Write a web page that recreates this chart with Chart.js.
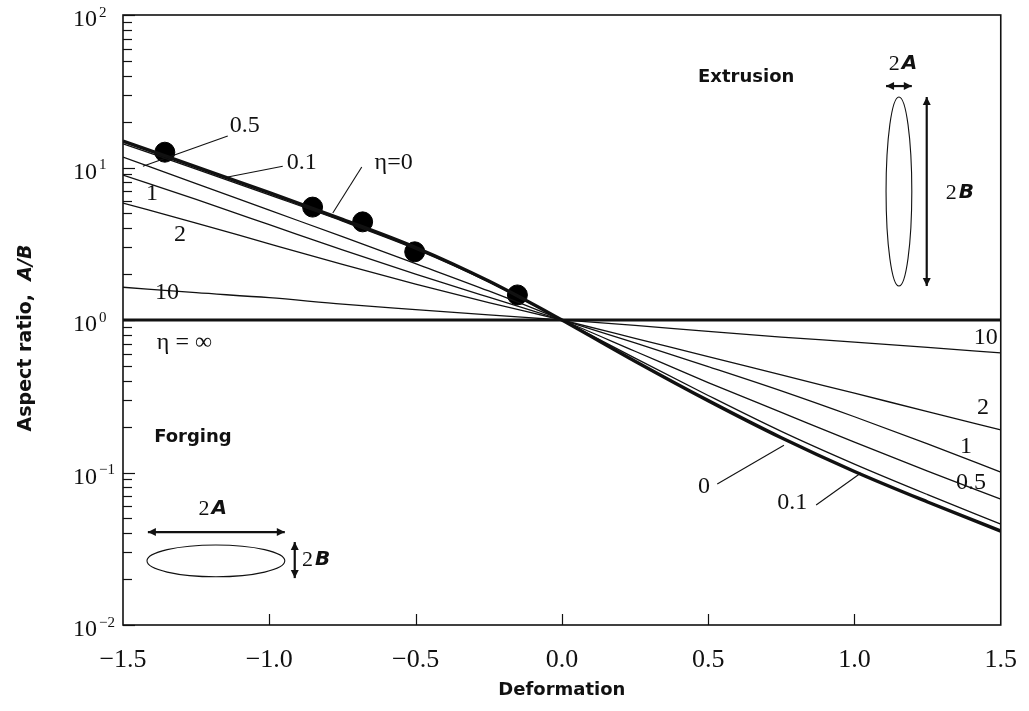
<!DOCTYPE html>
<html><head><meta charset="utf-8">
<script src="https://cdn.jsdelivr.net/npm/chart.js@4.4.1/dist/chart.umd.min.js"></script>
<style>html,body{margin:0;padding:0;background:#fff;}#wrap{width:1029px;height:711px;position:relative;}</style>
</head><body><div id="wrap"><canvas id="c"></canvas></div>
<script>
// ---- data ----
const deformation = [-1.5,-1.25,-1.0,-0.75,-0.5,-0.25,0,0.25,0.5,0.75,1.0,1.25,1.5];
const eta0   = [14.9,10.1,6.84,4.57,2.99,1.80,1,0.537,0.296,0.169,0.1016,0.0641,0.0413];
const eta01  = [14.3,9.77,6.61,4.45,2.92,1.78,1,0.562,0.320,0.186,0.1135,0.0716,0.0459];
const eta05  = [11.7,7.85,5.25,3.52,2.34,1.55,1,0.624,0.389,0.248,0.158,0.102,0.067];
const eta1   = [8.93,6.17,4.22,2.88,2.00,1.41,1,0.708,0.495,0.343,0.232,0.154,0.1007];
const eta2   = [5.85,4.32,3.16,2.32,1.72,1.30,1,0.759,0.575,0.437,0.331,0.251,0.190];
const eta10  = [1.64,1.51,1.40,1.27,1.17,1.08,1,0.923,0.841,0.773,0.716,0.661,0.608];
const etaInf = [1,1,1,1,1,1,1,1,1,1,1,1,1];
const expDeformation = [-1.357,-0.852,-0.681,-0.503,-0.152];
const expAspect      = [12.6,5.5,4.4,2.8,1.46];
const xTickValues = [-1.5,-1.0,-0.5,0,0.5,1.0,1.5];
const yDecades  = [0.01,0.1,1,10,100];
const yExpLabels = ['\u22122','\u22121','0','1','2'];

// ---- annotations (data coordinates) ----
const curveLabels = [
  {t:'0.5', x:-1.084, y:18.7}, {t:'0.1', x:-0.889, y:10.7}, {t:'\u03b7=0', x:-0.575, y:10.7},
  {t:'1', x:-1.401, y:6.70}, {t:'2', x:-1.305, y:3.61}, {t:'10', x:-1.35, y:1.50},
  {t:'\u03b7 = \u221e', x:-1.29, y:0.706},
  {t:'10', x:1.449, y:0.762}, {t:'2', x:1.439, y:0.265}, {t:'1', x:1.381, y:0.147},
  {t:'0.5', x:1.398, y:0.0853}, {t:'0', x:0.486, y:0.0803}, {t:'0.1', x:0.787, y:0.063}
];
const leaders = [
  [-1.142,16.1,-1.432,10.2], [-0.954,10.2,-1.142,8.67], [-0.684,10.07,-0.783,5.03],
  [0.531,0.0841,0.759,0.151], [0.869,0.0612,1.022,0.0993]
];
const regionLabels = [{t:'Extrusion', x:0.630, y:39.2}, {t:'Forging', x:-1.261, y:0.171}];

const toData = (arr) => deformation.map((x,i)=>({x, y: arr[i]}));
const lineDs = (label, arr, w) => ({label, data: toData(arr), borderColor:'#111', borderWidth:w,
  pointRadius:0, fill:false, cubicInterpolationMode:'monotone'});

const deco = {
  id:'deco',
  afterDatasetsDraw(ch){
    const ctx = ch.ctx, a = ch.chartArea, X = ch.scales.x, Y = ch.scales.y;
    const px = v => X.getPixelForValue(v), py = v => Y.getPixelForValue(v);
    ctx.save();
    ctx.strokeStyle = '#111'; ctx.fillStyle = '#111';
    // frame
    ctx.lineWidth = 1.6;
    ctx.strokeRect(a.left, a.top, a.right - a.left, a.bottom - a.top);
    // inward y ticks
    ctx.lineWidth = 1.2;
    yDecades.forEach((d, i) => {
      const ks = i === yDecades.length - 1 ? [1] : [1,2,3,4,5,6,7,8,9];
      ks.forEach(k => {
        const yy = Math.round(py(d*k)) + 0.5;
        ctx.beginPath(); ctx.moveTo(a.left, yy); ctx.lineTo(a.left + (k===1?12:9), yy); ctx.stroke();
      });
    });
    // inward x ticks
    xTickValues.slice(1,-1).forEach(v => {
      const xx = Math.round(px(v)) + 0.5;
      ctx.beginPath(); ctx.moveTo(xx, a.bottom); ctx.lineTo(xx, a.bottom - 11); ctx.stroke();
    });
    // y tick labels 10^n
    ctx.textBaseline = 'middle';
    yDecades.forEach((d, i) => {
      const yy = py(d);
      ctx.font = "24px 'Liberation Serif', serif"; ctx.textAlign = 'right';
      ctx.fillText('10', a.left - 26, yy + 5);
      ctx.font = "15px 'Liberation Serif', serif"; ctx.textAlign = 'left';
      ctx.fillText(yExpLabels[i], a.left - 24, yy - 2);
    });
    // y axis title
    ctx.save();
    ctx.translate(26, 338); ctx.rotate(-Math.PI/2);
    const f1 = "bold 19px 'DejaVu Sans', sans-serif", f2 = "italic bold 19px 'DejaVu Sans', sans-serif";
    ctx.font = f1; const w1 = ctx.measureText('Aspect ratio,  ').width;
    ctx.font = f2; const w2 = ctx.measureText('A/B').width;
    ctx.textAlign = 'left';
    ctx.font = f1; ctx.fillText('Aspect ratio,  ', -(w1+w2)/2, 0);
    ctx.font = f2; ctx.fillText('A/B', -(w1+w2)/2 + w1, 0);
    ctx.restore();
    // curve labels
    ctx.font = "24px 'Liberation Serif', serif"; ctx.textAlign = 'center'; ctx.textBaseline = 'middle';
    curveLabels.forEach(l => ctx.fillText(l.t, px(l.x), py(l.y)));
    ctx.lineWidth = 1.1;
    leaders.forEach(s => { ctx.beginPath(); ctx.moveTo(px(s[0]), py(s[1])); ctx.lineTo(px(s[2]), py(s[3])); ctx.stroke(); });
    // region labels
    ctx.font = "bold 18px 'DejaVu Sans', sans-serif";
    regionLabels.forEach(l => ctx.fillText(l.t, px(l.x), py(l.y)));
    // insets
    const head = (x, y, ang) => {
      ctx.beginPath(); ctx.moveTo(x, y);
      ctx.lineTo(x - 8*Math.cos(ang) + 4*Math.sin(ang), y - 8*Math.sin(ang) - 4*Math.cos(ang));
      ctx.lineTo(x - 8*Math.cos(ang) - 4*Math.sin(ang), y - 8*Math.sin(ang) + 4*Math.cos(ang));
      ctx.closePath(); ctx.fill();
    };
    const dblArrow = (x1, y1, x2, y2) => {
      const X1 = px(x1), Y1 = py(y1), X2 = px(x2), Y2 = py(y2);
      ctx.lineWidth = 2.2; ctx.beginPath(); ctx.moveTo(X1, Y1); ctx.lineTo(X2, Y2); ctx.stroke();
      const ang = Math.atan2(Y2 - Y1, X2 - X1);
      head(X2, Y2, ang); head(X1, Y1, ang + Math.PI);
    };
    const ell = (x1, x2, y1, y2) => {
      const L = px(x1), R = px(x2), T = py(y1), B = py(y2);
      ctx.lineWidth = 1.1; ctx.beginPath();
      ctx.ellipse((L+R)/2, (T+B)/2, (R-L)/2, (B-T)/2, 0, 0, Math.PI*2); ctx.stroke();
    };
    const dimText = (letter, x, y) => {
      const f1 = "22px 'Liberation Serif', serif", f2 = "italic bold 20px 'DejaVu Sans', sans-serif";
      ctx.font = f1; const a1 = ctx.measureText('2').width;
      ctx.font = f2; const a2 = ctx.measureText(letter).width;
      const x0 = px(x) - (a1 + a2 + 2)/2, yy = py(y);
      ctx.textAlign = 'left';
      ctx.font = f1; ctx.fillText('2', x0, yy);
      ctx.font = f2; ctx.fillText(letter, x0 + a1 + 2, yy);
      ctx.textAlign = 'center';
    };
    // extrusion inset
    dimText('A', 1.166, 47.7);
    dblArrow(1.108, 34.2, 1.196, 34.2);
    ell(1.108, 1.196, 29.0, 1.67);
    dblArrow(1.247, 29.0, 1.247, 1.67);
    dimText('B', 1.36, 6.8);
    // forging inset
    dimText('A', -1.193, 0.0577);
    dblArrow(-1.415, 0.0407, -0.947, 0.0407);
    ell(-1.418, -0.947, 0.0335, 0.0207);
    dblArrow(-0.913, 0.035, -0.913, 0.0203);
    dimText('B', -0.84, 0.0267);
    ctx.restore();
  }
};

new Chart(document.getElementById('c'), {
  type: 'line',
  data: { datasets: [
    lineDs('\u03b7=\u221e', etaInf, 3),
    lineDs('\u03b7=10', eta10, 1.3),
    lineDs('\u03b7=2', eta2, 1.3),
    lineDs('\u03b7=1', eta1, 1.3),
    lineDs('\u03b7=0.5', eta05, 1.3),
    lineDs('\u03b7=0.1', eta01, 1.3),
    lineDs('\u03b7=0', eta0, 3.4),
    {label:'experiment', type:'scatter', data: expDeformation.map((x,i)=>({x, y: expAspect[i]})),
     pointRadius:10, pointBackgroundColor:'#000', pointBorderColor:'#000', showLine:false}
  ]},
  options: {
    responsive: true, maintainAspectRatio: false, animation: false, devicePixelRatio: 1,
    layout: { padding: { top: 15, right: 22, left: 0, bottom: 0 } },
    plugins: { legend: { display: false }, tooltip: { enabled: false } },
    scales: {
      x: { type: 'linear', min: -1.5, max: 1.5,
        grid: { display: false }, border: { display: false },
        ticks: { stepSize: 0.5, padding: 12, color: '#111', maxRotation: 0, autoSkip: false,
          font: { family: "'Liberation Serif', serif", size: 26 },
          callback: v => (Math.abs(v) < 1e-9 ? '0.0' : (v < 0 ? '\u2212' : '') + Math.abs(v).toFixed(1)) },
        title: { display: true, text: 'Deformation', color: '#111',
          font: { family: "'DejaVu Sans', sans-serif", size: 18, weight: 'bold' }, padding: { top: 0, bottom: 10 } },
        afterFit: s => { s.height = 86; }
      },
      y: { type: 'logarithmic', min: 0.01, max: 100,
        grid: { display: false }, border: { display: false },
        ticks: { display: false },
        afterFit: s => { s.width = 123; }
      }
    }
  },
  plugins: [deco]
});
</script></body></html>
